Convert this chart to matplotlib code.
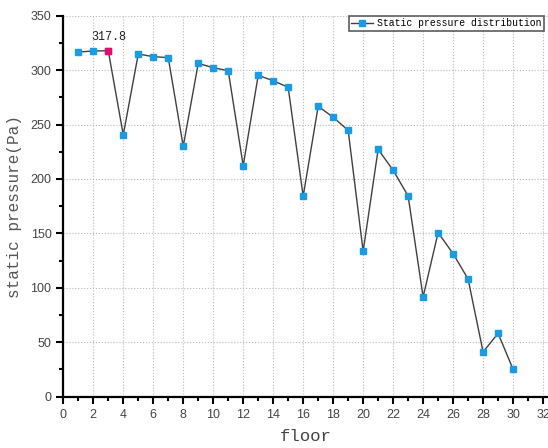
import numpy as np
import matplotlib.pyplot as plt
from matplotlib.ticker import MultipleLocator

floors = list(range(1, 31))
pressure = [316.6, 317.6, 317.8, 240.5, 314.8, 312.4, 311.5, 230.0, 306.2, 302.2,
            299.5, 212.2, 295.2, 290.3, 284.2, 184.1, 266.8, 256.7, 244.7, 133.5,
            227.2, 208.0, 184.4, 91.6, 150.7, 131.4, 108.1, 41.1, 58.2, 25.2]
peak_idx = 2

fig = plt.figure(figsize=(5.48, 4.48), dpi=100)
ax = fig.add_axes([63.3/548, 1-396.7/448, (548-63.3)/548, (396.7-15.7)/448])

ax.plot(floors, pressure, color='#404040', lw=1.0, marker='s', ms=4,
        mfc='#1a9be6', mec='#1a9be6', label='Static pressure distribution')
ax.plot(floors[peak_idx], pressure[peak_idx], 's', ms=4, color='#e0106a')
ax.annotate('317.8', (floors[peak_idx], pressure[peak_idx]), xytext=(-12, 8),
            textcoords='offset points', fontsize=8.5, family='Liberation Mono', color='#222222')

ax.set_xlim(0, 32.33)
ax.set_ylim(0, 350)
ax.xaxis.set_major_locator(MultipleLocator(2))
ax.xaxis.set_minor_locator(MultipleLocator(1))
ax.yaxis.set_major_locator(MultipleLocator(50))
ax.yaxis.set_minor_locator(MultipleLocator(25))
ax.set_xticks(range(0, 33, 2))

for s in ['top', 'right']:
    ax.spines[s].set_visible(False)
for s in ['left', 'bottom']:
    ax.spines[s].set_linewidth(1.6)
ax.tick_params(which='major', direction='out', length=5, width=1.5, labelsize=9,
               labelcolor='#444444')
ax.tick_params(which='minor', direction='out', length=3, width=1.5)
for lab in ax.get_xticklabels() + ax.get_yticklabels():
    lab.set_family('Liberation Sans')

ax.grid(True, which='major', color='#b8b8b8', ls=':', lw=0.8)

ax.set_xlabel('floor', fontsize=12.5, family='Liberation Mono', color='#444444', labelpad=6)
ax.set_ylabel('static pressure(Pa)', fontsize=11.5, family='Liberation Mono', color='#555555',
              labelpad=6)

leg = ax.legend(loc='upper right', bbox_to_anchor=(0.995, 1.005), prop={'family': 'Liberation Mono', 'size': 7},
                frameon=True, fancybox=False, edgecolor='#333333', handlelength=2.2,
                borderpad=0.25, handletextpad=0.4, borderaxespad=0.2)
leg.get_frame().set_linewidth(1.2)

fig.savefig('out.png', dpi=100)
